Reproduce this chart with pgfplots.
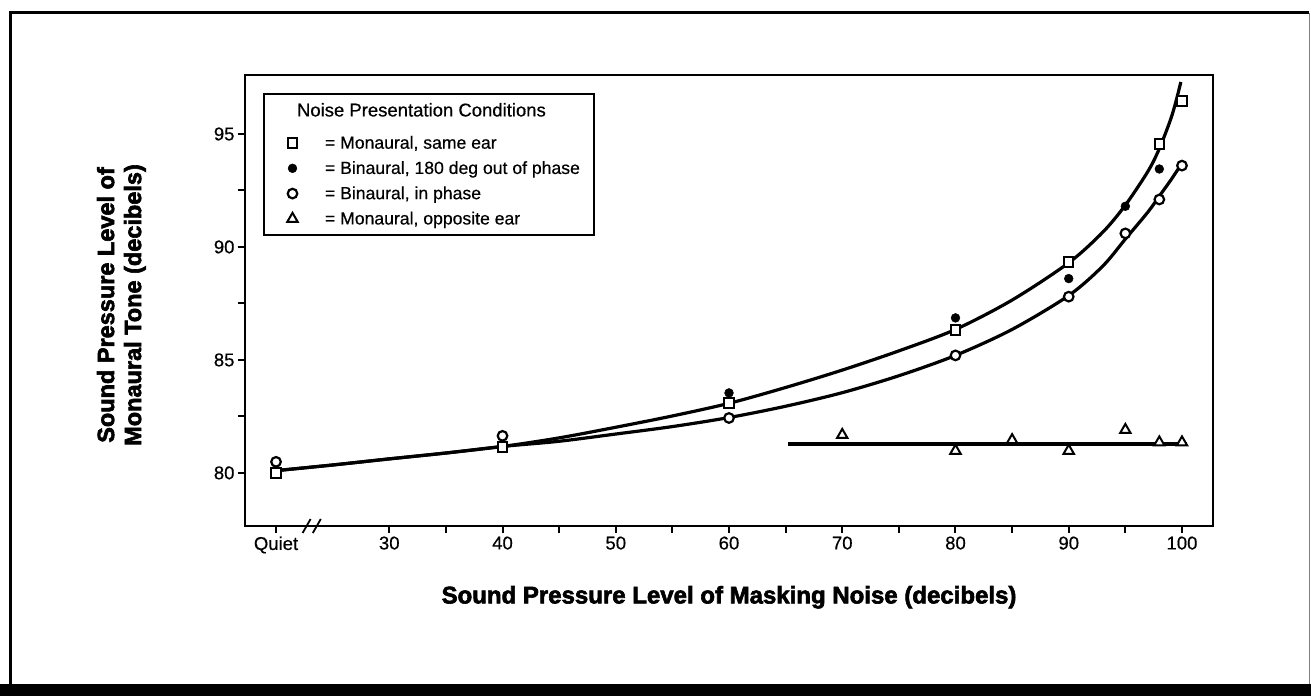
\documentclass[border=0pt]{standalone}
\usepackage{fontspec}
\setmainfont{Liberation Sans}[BoldFeatures={FakeBold=2.5}]
\newfontfamily\tickfont{Liberation Sans}[FakeBold=0.5]
\usepackage{pgfplots}
\pgfplotsset{compat=1.18}
\begin{document}
\begin{tikzpicture}[x=1pt,y=1pt]
\useasboundingbox (0,0) rectangle (1311,696);
% outer frame
\draw[line width=3pt] (10,0) -- (10,683) -- (1309,683);
\draw[line width=0.8pt, gray] (1309,683) -- (1309,12);
\fill[black] (0,0) rectangle (1311,12);
\begin{axis}[
  at={(245pt,170pt)}, anchor=south west,
  scale only axis, width=968pt, height=451pt,
  xmin=17.26, xmax=102.74, ymin=77.65, ymax=97.61,
  clip=false,
  axis line style={line width=2.4pt},
  tick style={line width=2pt, black},
  major tick length=7pt, minor tick length=7pt,
  tick align=outside, tick pos=left,
  xtick={20,30,40,50,60,70,80,90,100},
  xticklabels={Quiet,30,40,50,60,70,80,90,100},
  minor xtick={35,45,55,65,75,85,95},
  ytick={80,85,90,95},
  minor ytick={82.5,87.5,92.5},
  /pgf/number format/assume math mode=true,
  ticklabel style={font=\tickfont\fontsize{18.5}{20}\selectfont},
  xlabel={Sound Pressure Level of Masking Noise (decibels)},
  xlabel style={at={(axis description cs:0.5,-0.158)}, anchor=center, font=\bfseries\fontsize{24}{27}\selectfont},
  ylabel={Sound Pressure Level of\\Monaural Tone (decibels)},
  ylabel style={at={(axis description cs:-0.1276,0.49)}, anchor=center, align=center, font=\bfseries\fontsize{23.5}{27}\selectfont},
  legend style={at={(axis description cs:0.0186,0.96)}, anchor=north west, draw=black, line width=2pt, fill=white,
    font=\tickfont\fontsize{17.6}{20}\selectfont, inner xsep=12pt, inner ysep=7pt, row sep=7pt},
  legend cell align=left,
  legend image code/.code={\path[draw=none, fill=none] (0pt,0pt) -- (25pt,0pt);
    \draw[#1] plot[only marks] coordinates {(16.5pt,0pt)};},
]
% fitted curves
\addplot[line width=3.2pt, smooth, forget plot] coordinates {
 (20,80.10) (25,80.35) (30,80.62) (35,80.88) (40,81.17) (45,81.55) (50,82.02) (55,82.52) (60,83.08) (65,83.78) (70,84.55) (75,85.40) (80,86.35) (85,87.65) (90,89.30) (93,90.65) (95,91.85) (97,93.35) (98,94.35) (99,95.65) (99.5,96.5) (99.9,97.3)};
\addplot[line width=3.2pt, smooth, forget plot] coordinates {
 (20,80.10) (25,80.35) (30,80.62) (35,80.88) (40,81.17) (45,81.40) (50,81.72) (55,82.05) (60,82.45) (65,82.95) (70,83.55) (75,84.30) (80,85.20) (85,86.35) (90,87.85) (93,89.15) (95,90.35) (97,91.55) (98,92.25) (99,92.95) (99.8,93.55)};
\addplot[line width=3.2pt, forget plot] coordinates {(65.2,81.28) (100.4,81.28)};
% legend title
\addlegendimage{empty legend}
\addlegendentry{\hspace{-6pt}\raisebox{7pt}{\fontsize{18.5}{20}\selectfont Noise Presentation Conditions}}
% data
\addplot[only marks, mark=square*, mark size=4.7pt, mark options={fill=white, draw=black, line width=2pt}] coordinates {
 (20,80.0) (40,81.15) (60,83.1) (80,86.33) (90,89.34) (98,94.56) (100,96.46)};
\addlegendentry{\hspace{22pt}= Monaural, same ear}
\addplot[only marks, mark=*, mark size=4.4pt, mark options={fill=black, draw=black, line width=0.5pt}] coordinates {
 (60,83.54) (80,86.86) (90,88.6) (95,91.8) (98,93.45)};
\addlegendentry{\hspace{22pt}= Binaural, 180 deg out of phase}
\addplot[only marks, mark=*, mark size=4.8pt, mark options={fill=white, draw=black, line width=2.2pt}] coordinates {
 (20,80.49) (40,81.64) (60,82.43) (80,85.2) (90,87.8) (95,90.6) (98,92.1) (100,93.6)};
\addlegendentry{\hspace{22pt}= Binaural, in phase}
\addplot[only marks, mark=triangle*, mark size=6pt, mark options={fill=white, draw=black, line width=2pt}] coordinates {
 (70,81.68) (80,80.98) (85,81.45) (90,80.98) (95,81.9) (98,81.35) (100,81.35)};
\addlegendentry{\hspace{22pt}= Monaural, opposite ear}
% axis break
\draw[line width=1.8pt] (axis cs:22.7,77.65) ++(-4pt,-7pt) -- ++(8pt,14pt);
\draw[line width=1.8pt] (axis cs:23.6,77.65) ++(-4pt,-7pt) -- ++(8pt,14pt);
\end{axis}
\end{tikzpicture}
\end{document}
